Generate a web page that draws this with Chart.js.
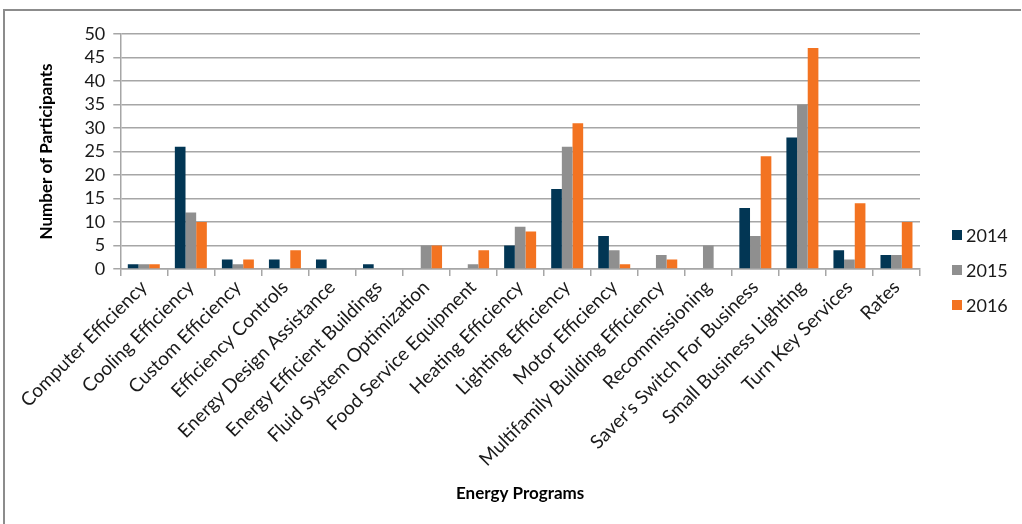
<!DOCTYPE html>
<html>
<head>
<meta charset="utf-8">
<script src="https://cdn.jsdelivr.net/npm/chart.js@4"></script>
<style>
  html, body { margin: 0; padding: 0; background: #fff; }
  #wrap { position: relative; width: 1022px; height: 524px; overflow: hidden; }
  #frame {
    position: absolute; left: 3px; top: 9px; width: 1016px; height: 540px;
    border-left: 2px solid #8c8c8c; border-top: 2px solid #8c8c8c;
  }
  canvas { position: absolute; left: 0; top: 0; }
</style>
</head>
<body>
<div id="wrap">
  <div id="frame"></div>
  <canvas id="chart" width="1022" height="524"></canvas>
</div>
<script>
  const programs = [
    "Computer Efficiency", "Cooling Efficiency", "Custom Efficiency", "Efficiency Controls",
    "Energy Design Assistance", "Energy Efficient Buildings", "Fluid System Optimization",
    "Food Service Equipment", "Heating Efficiency", "Lighting Efficiency", "Motor Efficiency",
    "Multifamily Building Efficiency", "Recommissioning", "Saver's Switch For Business",
    "Small Business Lighting", "Turn Key Services", "Rates",
  ];
  const years = ["2014", "2015", "2016"];
  const values2014 = [1, 26, 2, 2, 2, 1, 0, 0, 5, 17, 7, 0, 0, 13, 28, 4, 3];
  const values2015 = [1, 12, 1, 0, 0, 0, 5, 1, 9, 26, 4, 3, 5, 7, 35, 2, 3];
  const values2016 = [1, 10, 2, 4, 0, 0, 5, 4, 8, 31, 1, 2, 0, 24, 47, 14, 10];

  const colors = {
    navy: "#023654",
    gray: "#8f8f8f",
    orange: "#f37321",
    grid: "#a6a6a6",
    text: "#1a1a1a",
  };
  const font = "Lato";

  // legend sits to the right, low, like the spreadsheet original
  const sideLegend = {
    id: "sideLegend",
    afterDraw(chart) {
      const ctx = chart.ctx;
      ctx.save();
      ctx.font = `18px ${font}`;
      ctx.textBaseline = "middle";
      chart.data.datasets.forEach((ds, i) => {
        const y = 235 + i * 35;
        ctx.fillStyle = ds.backgroundColor;
        ctx.fillRect(952, y - 5, 10, 10);
        ctx.fillStyle = colors.text;
        ctx.fillText(ds.label, 966, y + 1);
      });
      ctx.restore();
    },
  };

  new Chart(document.getElementById("chart"), {
    type: "bar",
    data: {
      labels: programs,
      datasets: [
        { label: years[0], data: values2014, backgroundColor: colors.navy },
        { label: years[1], data: values2015, backgroundColor: colors.gray },
        { label: years[2], data: values2016, backgroundColor: colors.orange },
      ],
    },
    options: {
      responsive: false,
      animation: false,
      devicePixelRatio: 1,
      datasets: {
        bar: { barPercentage: 1, categoryPercentage: 0.68 },
      },
      layout: { padding: { top: 34, right: 102, bottom: 20, left: 36 } },
      plugins: {
        legend: { display: false },
        tooltip: { enabled: false },
      },
      scales: {
        y: {
          min: 0,
          max: 50,
          ticks: {
            stepSize: 5,
            autoSkip: false,
            color: colors.text,
            font: { family: font, size: 18 },
            padding: 8,
          },
          grid: { color: colors.grid, lineWidth: 1.5, tickLength: 7 },
          border: { color: colors.grid, width: 1.5 },
          title: {
            display: true,
            text: "Number of Participants",
            color: "#000",
            font: { family: font, size: 17, weight: "bold" },
            padding: { top: 0, bottom: 20 },
          },
        },
        x: {
          ticks: {
            minRotation: 45,
            maxRotation: 45,
            color: colors.text,
            font: { family: font, size: 19 },
            padding: 0,
          },
          grid: { drawOnChartArea: false, color: colors.grid, lineWidth: 1.5, tickLength: 7 },
          border: { color: colors.grid, width: 1.5 },
          title: {
            display: true,
            text: "Energy Programs",
            color: "#000",
            font: { family: font, size: 17, weight: "bold" },
            padding: { top: 30, bottom: 0 },
          },
        },
      },
    },
    plugins: [sideLegend],
  });
</script>
</body>
</html>
